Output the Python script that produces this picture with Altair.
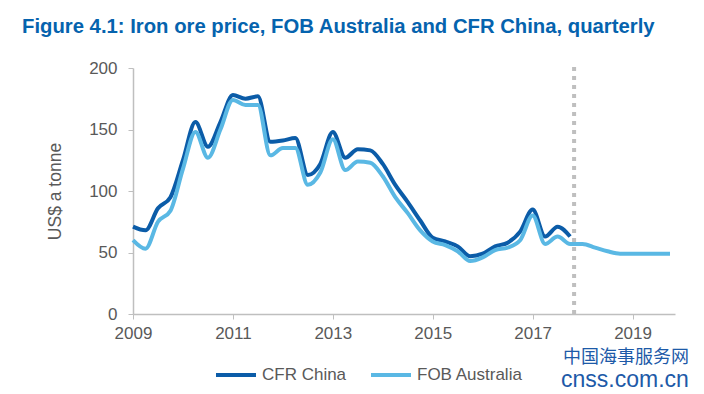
import altair as alt
import pandas as pd

# Quarterly positions (year + quarter offset)
years = [2009, 2010, 2011, 2012, 2013, 2014, 2015, 2016, 2017, 2018, 2019]
quarters = [0.0, 0.25, 0.5, 0.75]

cfr_china = [71, 68, 86, 95,
             125, 156, 136, 156,
             178, 175, 177, 140,
             141, 143, 113, 122,
             148, 127, 134, 133,
             122, 105, 91, 76,
             62, 59, 55, 47,
             49, 55, 58, 67,
             85, 63, 71, 63]

fob_australia = [60, 53, 75, 84,
                 118, 148, 127, 150,
                 174, 170, 170, 129,
                 135, 135, 105, 115,
                 142, 117, 124, 123,
                 112, 95, 82, 68,
                 59, 56, 51, 43,
                 46, 52, 54, 60,
                 80, 57, 63, 57,
                 57, 54, 51, 49,
                 49, 49, 49, 49]

forecast_start = [2017.83]
x_ticks = [2009, 2011, 2013, 2015, 2017, 2019]
y_ticks = [0, 50, 100, 150, 200]

t_all = [y + q for y in years for q in quarters]
rows = []
for t, v in zip(t_all, cfr_china):
    rows.append({"t": t, "price": v, "series": "CFR China"})
for t, v in zip(t_all, fob_australia):
    rows.append({"t": t, "price": v, "series": "FOB Australia"})
df = pd.DataFrame(rows)

FONT = "Liberation Sans"
GREY = "#595959"

x_scale = alt.Scale(domain=[2009, 2019.85], nice=False, zero=False)
y_scale = alt.Scale(domain=[0, 200], nice=False)

lines = alt.Chart(df).mark_line(strokeWidth=4, interpolate="monotone", clip=False).encode(
    x=alt.X("t:Q", scale=x_scale, title=None,
            axis=alt.Axis(values=x_ticks, format="d", labelFontSize=17, labelColor=GREY,
                          labelFont=FONT, domainColor="#BFBFBF", tickColor="#BFBFBF",
                          tickSize=5, grid=False, labelPadding=6, domainWidth=1.5,
                          labelFlush=False, labelOverlap=False)),
    y=alt.Y("price:Q", scale=y_scale, title="US$ a tonne",
            axis=alt.Axis(values=y_ticks, labelFontSize=17, labelColor=GREY, labelFont=FONT,
                          domainColor="#BFBFBF", tickColor="#BFBFBF", tickSize=5, grid=False,
                          titleFontSize=17.5, titleFont=FONT, titleColor=GREY,
                          titleFontWeight="normal", titlePadding=24, labelPadding=11,
                          domainWidth=1.5, labelFlush=False)),
    color=alt.Color("series:N",
                    scale=alt.Scale(domain=["CFR China", "FOB Australia"],
                                    range=["#0B5CA8", "#5AB8E4"]),
                    legend=alt.Legend(title=None, orient="none", direction="horizontal",
                                      legendX=81, legendY=285, symbolType="stroke",
                                      symbolSize=1600, symbolStrokeWidth=4,
                                      labelFontSize=17, labelFont=FONT, labelColor=GREY,
                                      labelOffset=4, columnPadding=16)),
)

rule_df = pd.DataFrame({"t": forecast_start, "y0": [0], "y1": [204]})
rule = alt.Chart(rule_df).mark_rule(color="#BFBFBF", strokeWidth=4, strokeDash=[4, 5],
                                    clip=False).encode(
    x=alt.X("t:Q", scale=x_scale),
    y=alt.Y("y0:Q", scale=y_scale),
    y2="y1:Q",
)

wm_df = pd.DataFrame({"txt": ["中国海事服务网", "cnss.com.cn"]})
wm1 = alt.Chart(wm_df.iloc[[0]]).mark_text(
    font="Noto Sans CJK SC", fontSize=18, color="#1D5AA8", align="left", baseline="middle"
).encode(text="txt:N", x=alt.value(430), y=alt.value(290))
wm2 = alt.Chart(wm_df.iloc[[1]]).mark_text(
    font=FONT, fontSize=23, color="#1D5AA8", align="left", baseline="middle"
).encode(text="txt:N", x=alt.value(428), y=alt.value(312))

chart = alt.layer(rule, lines, wm1, wm2).properties(
    width=542, height=246,
    title=alt.TitleParams("Figure 4.1: Iron ore price, FOB Australia and CFR China, quarterly",
                          anchor="start", frame="group", dx=-111, fontSize=20.3,
                          fontWeight="bold", color="#0563AE", font=FONT, offset=22),
    autosize=alt.AutoSizeParams(type="none"),
    padding={"left": 125, "top": 60, "right": 21, "bottom": 78},
).configure_view(stroke=None)

chart.save("out.html", embed_options={"renderer": "svg", "actions": False})
